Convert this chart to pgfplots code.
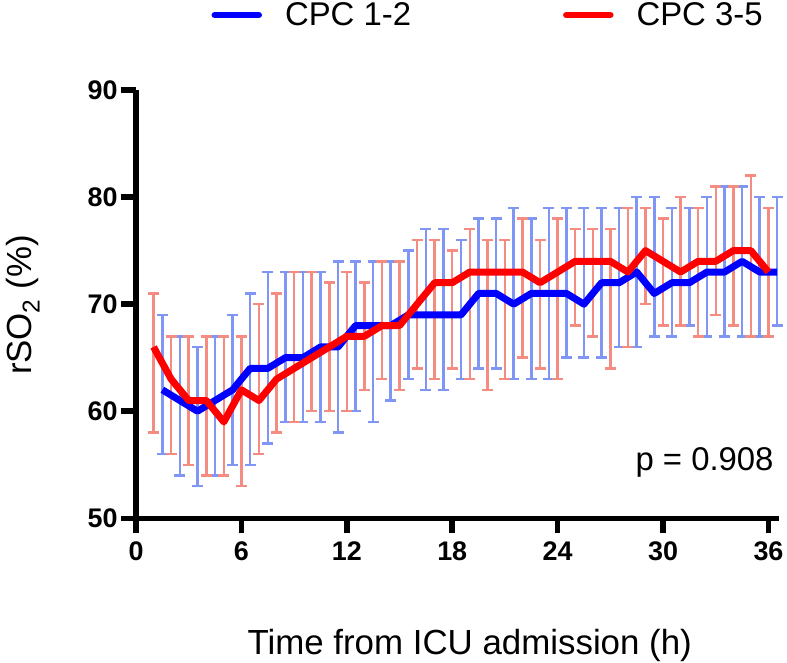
\documentclass[border=0pt]{standalone}
\usepackage{pgfplots}
\pgfplotsset{compat=1.18}
\usepackage{pgfplotstable}
\usepackage{fontspec}
\setmainfont{Liberation Sans}
\definecolor{cpcblue}{RGB}{0,0,255}
\definecolor{cpcred}{RGB}{255,0,0}
\definecolor{barblue}{RGB}{128,150,245}
\definecolor{barred}{RGB}{245,140,130}

\pgfplotstableread{
x y ep em
1 66 5 8
2 63 4 7
3 61 6 6
4 61 6 7
5 59 8 5
6 62 5 9
7 61 9 5
8 63 8 5
9 64 9 5
10 65 8 5
11 66 6 6
12 67 6 7
13 67 5 5
14 68 6 5
15 68 6 6
16 70 6 6
17 72 4 9
18 72 3 8
19 73 4 10
20 73 3 11
21 73 3 10
22 73 5 8
23 72 4 8
24 73 5 10
25 74 3 6
26 74 3 7
27 74 3 10
28 73 6 7
29 75 4 5
30 74 4 6
31 73 7 5
32 74 5 7
33 74 7 5
34 75 6 7
35 75 7 8
36 73 6 6
}\redtable

\pgfplotstableread{
x y ep em
1.5 62 7 6
2.5 61 6 7
3.5 60 6 7
4.5 61 6 7
5.5 62 7 7
6.5 64 7 9
7.5 64 9 7
8.5 65 8 6
9.5 65 8 6
10.5 66 7 7
11.5 66 8 8
12.5 68 6 8
13.5 68 6 9
14.5 68 6 7
15.5 69 6 6
16.5 69 8 7
17.5 69 8 7
18.5 69 7 6
19.5 71 7 7
20.5 71 7 7
21.5 70 9 7
22.5 71 7 8
23.5 71 8 8
24.5 71 8 6
25.5 70 9 5
26.5 72 7 7
27.5 72 7 6
28.5 73 7 7
29.5 71 9 4
30.5 72 7 5
31.5 72 7 4
32.5 73 7 6
33.5 73 8 6
34.5 74 7 7
35.5 73 7 6
36.5 73 7 5
}\bluetable

\begin{document}
\begin{tikzpicture}
\useasboundingbox (-136bp,-144.7bp) rectangle (651bp,518.3bp);
\begin{axis}[
  at={(0,0)}, anchor=south west,
  scale only axis,
  width=643bp, height=428.3bp,
  xmin=0, xmax=36.6, ymin=50, ymax=90,
  axis lines*=left,
  axis line style={line width=5.5bp, black},
  xtick={0,6,...,36}, ytick={50,60,...,90},
  tick align=outside,
  major tick length=15bp,
  tick style={line width=5.5bp, black},
  /pgf/number format/assume math mode=true,
  ticklabel style={font=\fontsize{27}{27}\selectfont\bfseries},
  xticklabel style={yshift=-5bp},
  xlabel={Time from ICU admission (h)},
  ylabel={rSO\textsubscript{2} (\%)},
  every axis x label/.style={at={(axis description cs:0.519,-0.319)}, anchor=base, font=\fontsize{35}{35}\selectfont},
  every axis y label/.style={at={(axis description cs:-0.176,0.498)}, rotate=90, anchor=center, font=\fontsize{35}{35}\selectfont},
  clip=false,
  legend columns=2,
  legend style={at={(axis description cs:0.546,1.175)}, anchor=center, draw=none, fill=none,
    font=\fontsize{33}{33}\selectfont,
    nodes={inner sep=0pt},
    /tikz/every odd column/.append style={column sep=23bp},
    /tikz/every even column/.append style={column sep=152bp}},
  legend image code/.code={\draw[#1, line width=6.5bp, line cap=round] (0bp,0bp) -- (44bp,0bp);},
]
\addplot[draw=none, mark=none, forget plot,
  error bars/.cd, y dir=both, y explicit,
  error bar style={draw=barblue, line width=2.5bp},
  error mark options={draw=barblue, rotate=90, mark size=5.5bp, line width=2.5bp}]
  table[x=x, y=y, y error plus=ep, y error minus=em]{\bluetable};
\addplot[draw=none, mark=none, forget plot,
  error bars/.cd, y dir=both, y explicit,
  error bar style={draw=barred, line width=2.5bp},
  error mark options={draw=barred, rotate=90, mark size=5.5bp, line width=2.5bp}]
  table[x=x, y=y, y error plus=ep, y error minus=em]{\redtable};
\addplot[cpcblue, line width=7bp, line join=round, mark=none] table[x=x, y=y]{\bluetable};
\addlegendentry{CPC 1-2}
\addplot[cpcred, line width=7bp, line join=round, mark=none] table[x=x, y=y]{\redtable};
\addlegendentry{CPC 3-5}
\node[anchor=base east, font=\fontsize{33}{33}\selectfont] at (axis cs:36.49,54.5) {p = 0.908};
\end{axis}
\end{tikzpicture}
\end{document}
